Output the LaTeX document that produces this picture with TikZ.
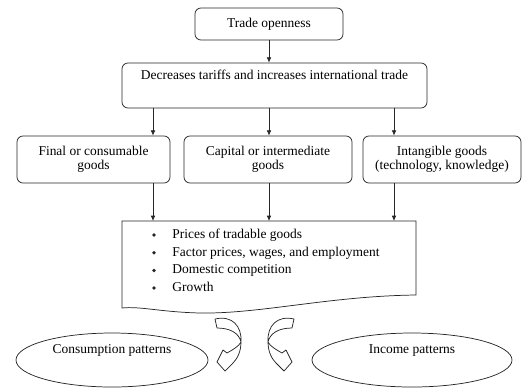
\documentclass[tikz,border=0pt]{standalone}
\usepackage{fontspec}
\setmainfont{Liberation Serif}
\usetikzlibrary{arrows.meta,shapes.geometric}

\begin{document}
\begin{tikzpicture}[x=0.75pt,y=-0.75pt,line width=0.55pt,
		font=\fontsize{10.1}{12.5}\selectfont,
		box/.style={draw=black!85,rounded corners=4.5pt,align=center,inner sep=1pt},
		goods/.style={box,font=\fontsize{10.1}{10.8}\selectfont,minimum height=35.25pt},
		oval/.style={draw=black!85,ellipse,align=center,inner sep=0pt,minimum height=40.5pt},
		flow/.style={draw=black!85,-{Latex[length=4pt,width=3.5pt]}},
		dot/.style={circle,fill=black!85,inner sep=0pt,minimum size=2.8pt},
		turnarrow/.style={draw=black!85,fill=white,line join=round}]
			\useasboundingbox (0,0) rectangle (523,390);
			
			\node[box,minimum width=111pt,minimum height=24pt] (open) at (269,24) {Trade openness};
			\node[box,minimum width=228.75pt,minimum height=33.75pt] (tariff) at (274.5,85.5) {Decreases tariffs and increases international trade\\\strut};
			
			\node[goods,minimum width=114.75pt] (fin) at (93.5,159.5) {Final or consumable\\goods};
			\node[goods,minimum width=126pt] (cap) at (268,159.5) {Capital or intermediate\\goods};
			\node[goods,minimum width=118.5pt] (int) at (442,159.5) {Intangible goods\\(technology, knowledge)};
			
			\coordinate (x1) at (153,0);
			\coordinate (x2) at (269,0);
			\coordinate (x3) at (394,0);
			\coordinate (effnw) at (122,221);
			\coordinate (effne) at (416,221);
			
			\draw[flow] (open) -- (open |- tariff.north);
			\foreach \n/\c in {fin/x1,cap/x2,int/x3}{
				\draw[flow] (tariff.south -| \c) -- (\n.north -| \c);
				\draw[flow] (\n.south -| \c) -- (effnw -| \c);
			}
			
			% effects box with wavy bottom
			\draw[draw=black!85] (effnw) -- (effne) -- (416,295) .. controls (330,296) and (260,314) .. (200,313) .. controls (160,312) and (140,306) .. (122,308) -- cycle;
			\foreach \txt [count=\i] in {Prices of tradable goods, {Factor prices, wages, and employment}, Domestic competition, Growth}{
				\node[dot] (dot\i) at (154,{235+17.7*(\i-1)}) {};
				\node[anchor=west,inner sep=0pt,text height=7pt,text depth=2pt] (item\i) at (172,{235+17.7*(\i-1)}) {\txt};
			}
			
			\node[oval,minimum width=144pt] (cons) at (112,360) {Consumption patterns\\\strut};
			\node[oval,minimum width=150pt] (inc) at (412,360) {Income patterns\\\strut};
			
			% turning arrows
			\foreach \s/\f in {0/1,509/-1}{
				\begin{scope}[shift={(\s,0)},xscale=\f]
					\path[turnarrow] (215,319) .. controls (232,315) and (242,326) .. (241,342)
					.. controls (241,352) and (237,359) .. (233,363) -- (225,371) -- (217,362) -- (223,350) -- (227,353)
					.. controls (234,349) and (239,346) .. (241,342)
					.. controls (239,333) and (230,328) .. (217,328) -- cycle;
				\end{scope}
			}
\end{tikzpicture}
\end{document}
